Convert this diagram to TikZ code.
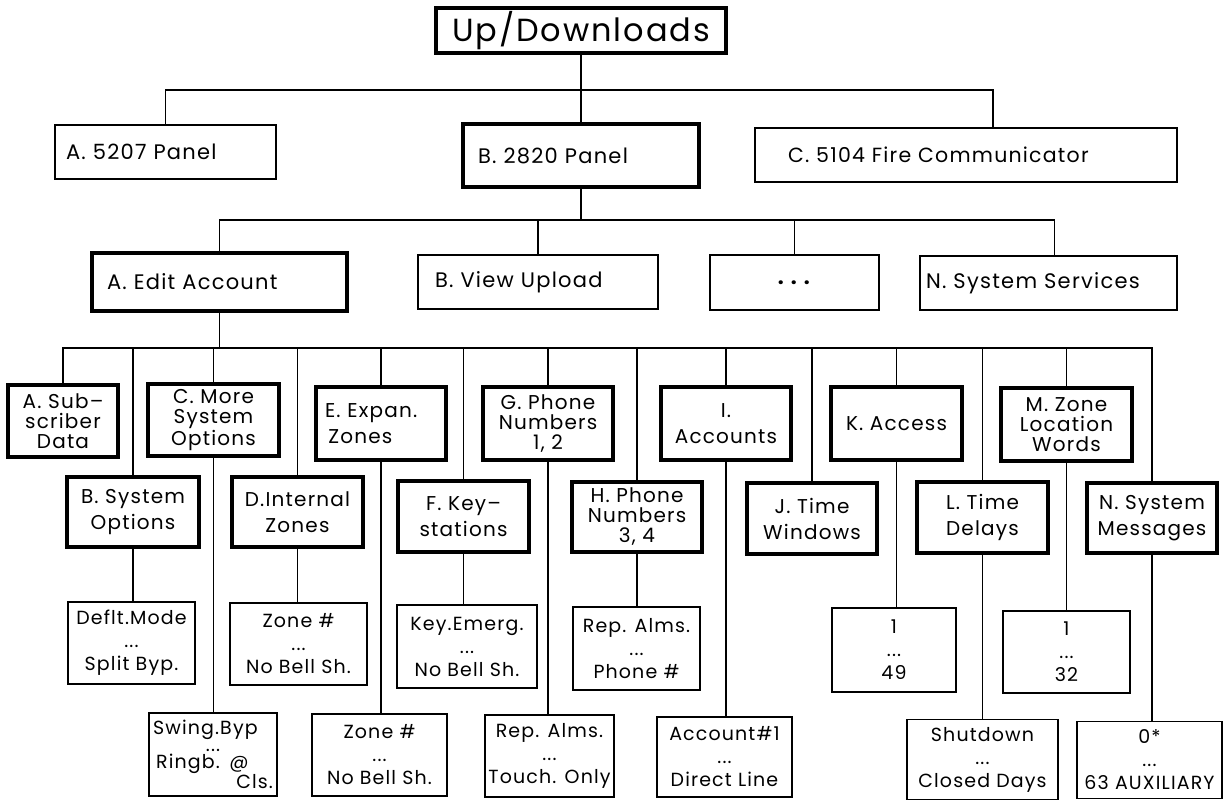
\documentclass[tikz,border=0pt]{standalone}
\usepackage{fontspec}
\setmainfont{Poppins}[LetterSpace=6]
\begin{document}
\begin{tikzpicture}[x=1pt,y=-1pt,
    every node/.style={inner sep=0pt},
    wh/.style 2 args={minimum width=#1, minimum height=#2},
    wire/.style={line width=1.8pt},
    thin box/.style={draw, line width=1.8pt, font=\fontsize{21}{24}\selectfont},
    thick box/.style={draw, line width=4.5pt, align=center, font=\fontsize{20}{20}\selectfont},
    leaf/.style={thin box, align=center, font=\fontsize{19}{23}\selectfont}]
  \useasboundingbox (0,0) rectangle (1224,801);

  % top level
  \node[thick box, wh={290}{45}, font=\fontsize{32}{36}\selectfont] (top) at (581,30.5) {Up/Downloads};

  % panels
  \node[thin box, wh={221}{54}, inner xsep=11pt, text width=199pt, align=left] (a5207) at (165.5,152) {A. 5207 Panel};
  \node[thick box, wh={236}{63}, inner xsep=15pt, text width=206pt, align=left, font=\fontsize{21}{24}\selectfont] (b2820) at (581,155.5) {B. 2820 Panel};
  \node[thin box, wh={422}{54}, inner xsep=33pt, text width=356pt, align=left, font=\fontsize{20.5}{24}\selectfont] (c5104) at (966,155) {C. 5104 Fire Communicator};

  % 2820 menu
  \node[thick box, wh={255}{58}, inner xsep=15pt, text width=225pt, align=left, font=\fontsize{21}{24}\selectfont] (editacc) at (219.5,282) {A. Edit Account};
  \node[thin box, wh={240}{54}, inner xsep=17pt, text width=206pt, align=left] (viewup) at (538,282) {B. View Upload};
  \node[thin box, wh={169}{55}] (dots) at (794.5,282.5) {\textbf{.\,\,.\,\,.}};
  \node[thin box, wh={257}{54}, inner xsep=6pt, text width=245pt, align=left] (syssvc) at (1048.5,283) {N. System Services};

  % edit account, upper row
  \node[thick box, wh={110}{72}] (sa) at (63,421) {A. Sub--\\scriber\\Data};
  \node[thick box, wh={131}{72}] (sc) at (213.5,420) {C. More\\System\\Options};
  \node[thick box, wh={130}{73}, inner xsep=9pt, text width=112pt, align=left, font=\fontsize{20}{26}\selectfont] (se) at (381,423.5) {E. Expan.\\\,Zones};
  \node[thick box, wh={130}{73}] (sg) at (548,423.5) {G. Phone\\Numbers\\1, 2};
  \node[thick box, wh={130}{73}, font=\fontsize{20}{26}\selectfont] (si) at (726,423.5) {I.\\Accounts};
  \node[thick box, wh={131}{73}] (sk) at (896.5,423.5) {K. Access};
  \node[thick box, wh={131}{73}] (sm) at (1066.5,424.5) {M. Zone\\Location\\Words};

  % edit account, lower row
  \node[thick box, wh={132}{70}, font=\fontsize{20}{26}\selectfont] (sb) at (133,512) {B. System\\Options};
  \node[thick box, wh={131}{70}, font=\fontsize{20}{26}\selectfont] (sd) at (297.5,512) {D.Internal\\Zones};
  \node[thick box, wh={131}{71}, font=\fontsize{20}{26}\selectfont] (sf) at (463.5,516.5) {F. Key--\\stations};
  \node[thick box, wh={130}{70}] (sh) at (637,517) {H. Phone\\Numbers\\3, 4};
  \node[thick box, wh={130}{71}, font=\fontsize{20}{26}\selectfont] (sj) at (812,518.5) {J. Time\\Windows};
  \node[thick box, wh={131}{71}, font=\fontsize{20}{26}\selectfont] (sl) at (982.5,517.5) {L. Time\\Delays};
  \node[thick box, wh={130}{70}, font=\fontsize{20}{26}\selectfont] (sn) at (1152,518) {N. System\\Messages};

  % item ranges
  \node[leaf, wh={127}{82}] (lb) at (131.5,643) {Deflt.Mode\\...\\Split Byp.};
  \node[leaf, wh={137}{82}] (ld) at (298.5,644) {Zone \#\\...\\No Bell Sh.};
  \node[leaf, wh={140}{83}] (lf) at (467,646.5) {Key.Emerg.\\...\\No Bell Sh.};
  \node[leaf, wh={127}{83}] (lh) at (636.5,648.5) {Rep. Alms.\\...\\Phone \#};
  \node[leaf, wh={124}{84}] (lk) at (894,650) {1\\...\\49};
  \node[leaf, wh={127}{82}] (lm) at (1066.5,652) {1\\...\\32};

  \node[leaf, wh={128}{83}, inner xsep=4pt, text width=120pt, align=left, font=\fontsize{19}{17}\selectfont] (lc) at (213,754.5)
    {Swing.Byp\\\makebox[120pt]{...}\\\,Ringb. @\\\makebox[120pt][r]{Cls.}};
  \node[leaf, wh={135}{82}] (le) at (379.5,755) {Zone \#\\...\\No Bell Sh.};
  \node[leaf, wh={129}{82}] (lg) at (549.5,756) {Rep. Alms.\\...\\Touch. Only};
  \node[leaf, wh={135}{80}] (li) at (724.5,757) {Account\#1\\...\\Direct Line};
  \node[leaf, wh={151}{80}] (ll) at (982.5,759.5) {Shutdown\\...\\Closed Days};
  \node[leaf, wh={145}{77}] (ln) at (1149.5,760) {0*\\...\\63 AUXILIARY};

  % connectors
  \coordinate (bus1) at (581,90);
  \coordinate (bus2) at (581,220);
  \coordinate (bus3) at (editacc.south |- 0,348);

  \draw[wire] (top.south) -- (b2820.north);
  \draw[wire] (a5207.north) |- (bus1) -| ([xshift=27pt]c5104.north);

  \draw[wire] (b2820.south) -- (bus2);
  \draw[wire] (editacc.north) |- (bus2) -| ([xshift=6pt]syssvc.north);
  \draw[wire] (bus2) -| (viewup.north);
  \draw[wire] (bus2) -| (dots.north);

  \draw[wire] (editacc.south) -- (bus3);
  \draw[wire] (sa.north) |- (bus3) -| (sn.north);
  \foreach \s in {sb,sc,sd,se,sf,sg,sh,si,sj,sk,sl,sm}
    \draw[wire] (bus3) -| (\s.north);

  \foreach \p/\l in {sb/lb,sc/lc,sd/ld,se/le,sf/lf,sg/lg,sh/lh,si/li,sk/lk,sl/ll,sm/lm,sn/ln}
    \draw[wire] (\p.south) -- (\p.south |- \l.north);
\end{tikzpicture}
\end{document}
